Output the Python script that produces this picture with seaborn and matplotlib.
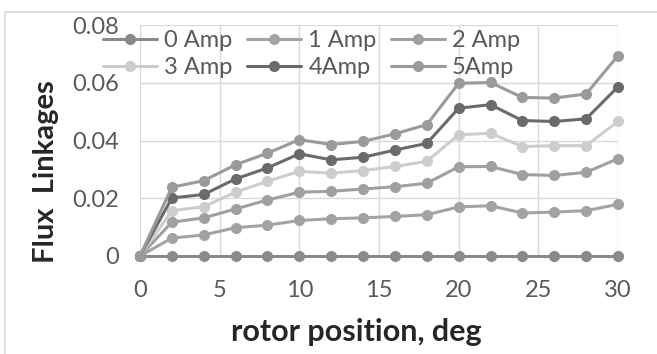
import pandas as pd
import seaborn as sns
import numpy as np
import matplotlib.pyplot as plt
from matplotlib.patches import Rectangle

# rotor position (deg) and flux linkage per current level
position = [0, 2, 4, 6, 8, 10, 12, 14, 16, 18, 20, 22, 24, 26, 28, 30]
amp0 = [0] * 16
amp1 = [0, 0.0062, 0.0073, 0.0098, 0.0107, 0.0123, 0.0129, 0.0132, 0.0137, 0.0143,
        0.0170, 0.0174, 0.0149, 0.0152, 0.0157, 0.0179]
amp2 = [0, 0.0117, 0.0132, 0.0163, 0.0194, 0.0221, 0.0224, 0.0232, 0.0240, 0.0252,
        0.0309, 0.0310, 0.0282, 0.0279, 0.0290, 0.0337]
amp3 = [0, 0.0157, 0.0171, 0.0221, 0.0259, 0.0293, 0.0287, 0.0296, 0.0310, 0.0328,
        0.0420, 0.0425, 0.0379, 0.0382, 0.0382, 0.0466]
amp4 = [0, 0.0201, 0.0213, 0.0267, 0.0305, 0.0354, 0.0333, 0.0342, 0.0367, 0.0390,
        0.0512, 0.0524, 0.0469, 0.0466, 0.0475, 0.0586]
amp5 = [0, 0.0238, 0.0261, 0.0316, 0.0356, 0.0403, 0.0386, 0.0397, 0.0423, 0.0455,
        0.0598, 0.0601, 0.0549, 0.0547, 0.0561, 0.0694]
labels = ['0 Amp', '1 Amp', '2 Amp', '3 Amp', '4Amp', '5Amp']
colors = ['#8a8a8a', '#a3a3a3', '#a0a0a0', '#cdcdcd', '#6a6a6a', '#9a9a9a']

df = pd.DataFrame({'position': position, '0 Amp': amp0, '1 Amp': amp1, '2 Amp': amp2,
                   '3 Amp': amp3, '4Amp': amp4, '5Amp': amp5})
long = df.melt(id_vars='position', var_name='current', value_name='flux')

sns.set_style('whitegrid')
plt.rcParams['font.family'] = ['Lato', 'DejaVu Sans']

fig = plt.figure(figsize=(6.57, 3.54), dpi=100)
ax = fig.add_axes([140 / 657, 98 / 354, 478 / 657, 231 / 354])

sns.lineplot(data=long, x='position', y='flux', hue='current', hue_order=labels,
             palette=colors, marker='o', markersize=8, markeredgewidth=0,
             linewidth=2.2, ax=ax)

ax.set_xlim(0, 30)
ax.set_ylim(0, 0.08)
ax.set_xticks([0, 5, 10, 15, 20, 25, 30])
ax.set_yticks([0, 0.02, 0.04, 0.06, 0.08])
ax.set_yticklabels(['0', '0.02', '0.04', '0.06', '0.08'])
ax.grid(color='#d9d9d9', linewidth=1)
for s in ax.spines.values():
    s.set_visible(False)
ax.tick_params(colors='#595959', labelsize=17, length=0)
ax.tick_params(axis='x', pad=17)
ax.tick_params(axis='y', pad=15)
ax.set_xlabel('rotor position, deg', fontsize=22, fontweight='bold', va='center')
ax.set_ylabel('Flux  Linkages', fontsize=21, fontweight='bold', va='center')
ax.xaxis.set_label_coords(0.452, -0.33)
ax.yaxis.set_label_coords(-0.197, 0.366)
for line in ax.lines:
    line.set_clip_on(False)

handles, names = ax.get_legend_handles_labels()
order = [0, 3, 1, 4, 2, 5]
ax.legend([handles[i] for i in order], [names[i] for i in order], ncol=3,
          frameon=False, fontsize=17, handlelength=2.3, handletextpad=0.3,
          columnspacing=0.6, labelspacing=0.25, loc='upper left',
          bbox_to_anchor=(103 / 657, 1 - 30 / 354), bbox_transform=fig.transFigure,
          borderaxespad=0, borderpad=0, labelcolor='#595959')

fig.patches.append(Rectangle((5 / 657, -0.1), 1.0, 1 - 12 / 354 + 0.1,
                             transform=fig.transFigure, fill=False,
                             edgecolor='#d9d9d9', linewidth=1.2))

fig.savefig('out.png', dpi=100)
